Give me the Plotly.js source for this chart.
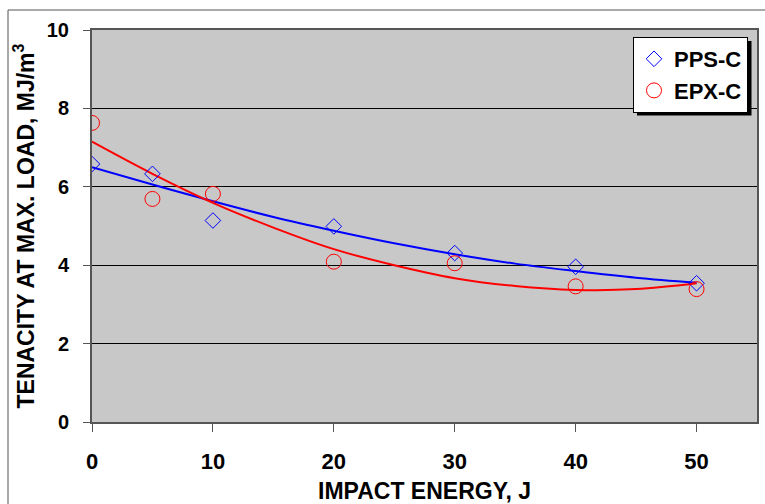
<!DOCTYPE html>
<html>
<head>
<meta charset="utf-8">
<script src="https://cdn.plot.ly/plotly-3.0.1.min.js"></script>
<style>
  html, body { margin: 0; padding: 0; background: #ffffff; }
  #chart { width: 765px; height: 504px; }
</style>
</head>
<body>
<div id="chart"></div>
<script>
// Measured points
const energy = [0, 5, 10, 20, 30, 40, 50];
const ppsC = [6.58, 6.33, 5.14, 4.99, 4.31, 3.96, 3.54];
const epxC = [7.63, 5.69, 5.82, 4.09, 4.05, 3.46, 3.39];

// Trend curves
const trendEnergy = [0, 5, 10, 15, 20, 25, 30, 35, 40, 45, 50];
const ppsTrend = [6.50, 6.06, 5.63, 5.23, 4.88, 4.56, 4.28, 4.04, 3.85, 3.68, 3.55];
const epxTrend = [7.15, 6.33, 5.59, 4.96, 4.41, 4.00, 3.67, 3.47, 3.37, 3.39, 3.54];

const xTicks = [0, 10, 20, 30, 40, 50];
const yTicks = [0, 2, 4, 6, 8, 10];

const FONT = 'Liberation Sans, Arial, Helvetica, sans-serif';

const traces = [
  {
    x: trendEnergy, y: ppsTrend, type: 'scatter', mode: 'lines',
    line: {color: '#0000ff', width: 2, shape: 'spline'},
    showlegend: false, hoverinfo: 'skip'
  },
  {
    x: trendEnergy, y: epxTrend, type: 'scatter', mode: 'lines',
    line: {color: '#ff0000', width: 2, shape: 'spline'},
    showlegend: false, hoverinfo: 'skip'
  },
  {
    x: energy, y: ppsC, type: 'scatter', mode: 'markers', name: 'PPS-C',
    marker: {symbol: 'diamond-open', size: 12, color: '#0000ff', line: {width: 1, color: '#0000ff'}}
  },
  {
    x: energy, y: epxC, type: 'scatter', mode: 'markers', name: 'EPX-C',
    marker: {symbol: 'circle-open', size: 15, color: '#ff0000', line: {width: 1, color: '#ff0000'}}
  }
];

const L = 92, R = 8, T = 30, B = 82;
const W = 765 - L - R, H = 504 - T - B;
const px = v => (v - L) / W;
const py = v => (504 - B - v) / H;

const layout = {
  width: 765, height: 504,
  margin: {l: L, r: R, t: T, b: B, pad: 0},
  paper_bgcolor: '#ffffff',
  plot_bgcolor: '#c8c8c8',
  font: {family: FONT, color: '#000000'},
  showlegend: true,
  legend: {
    x: px(748), xanchor: 'right', y: py(37), yanchor: 'top',
    bgcolor: '#ffffff', bordercolor: '#000000', borderwidth: 1,
    font: {family: FONT, size: 22, weight: 'bold', color: '#000000'},
    traceorder: 'normal', itemwidth: 30
  },
  xaxis: {
    range: [0, 55], tickvals: xTicks, ticktext: xTicks.map(String),
    ticks: 'outside', ticklen: 8, tickwidth: 1, tickcolor: '#555555',
    ticklabelstandoff: 11,
    tickfont: {family: FONT, size: 22, weight: 'bold', color: '#000000'},
    showgrid: false, zeroline: false,
    showline: true, linecolor: '#555555', linewidth: 2, mirror: true,
    title: {text: 'IMPACT ENERGY, J', standoff: 12,
            font: {family: FONT, size: 23, weight: 'bold', color: '#000000'}}
  },
  yaxis: {
    range: [0, 10], tickvals: yTicks, ticktext: yTicks.map(String),
    ticks: 'outside', ticklen: 7, tickwidth: 1, tickcolor: '#555555',
    ticklabelstandoff: 10,
    tickfont: {family: FONT, size: 20, weight: 'bold', color: '#000000'},
    showgrid: true, gridcolor: '#000000', gridwidth: 1, zeroline: false,
    showline: true, linecolor: '#555555', linewidth: 2, mirror: true,
    title: {text: 'TENACITY AT MAX. LOAD, MJ/m<sup>3</sup>', standoff: 6,
            font: {family: FONT, size: 23, weight: 'bold', color: '#000000'}}
  },
  shapes: [
    {type: 'rect', xref: 'paper', yref: 'paper', layer: 'below',
     x0: px(8), x1: px(780), y0: py(520), y1: py(10),
     line: {color: '#555555', width: 1}, fillcolor: 'rgba(0,0,0,0)'},
    {type: 'rect', xref: 'paper', yref: 'paper', layer: 'above',
     x0: px(637), x1: px(751.5), y0: py(115.5), y1: py(41),
     line: {width: 0}, fillcolor: '#000000'}
  ]
};

Plotly.newPlot('chart', traces, layout, {displayModeBar: false, staticPlot: true});
</script>
</body>
</html>
